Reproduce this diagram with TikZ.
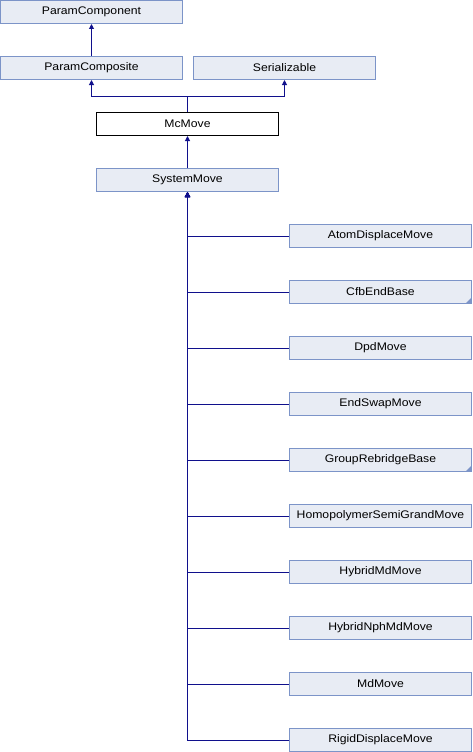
\documentclass[tikz,border=0pt]{standalone}
\usepackage{fontspec}
\setmainfont{Liberation Sans}[FakeStretch=1.11]
\usetikzlibrary{arrows.meta}
\definecolor{boxfill}{RGB}{232,236,244}
\definecolor{boxdraw}{RGB}{124,148,200}
\definecolor{arrowcol}{RGB}{16,16,140}
\tikzset{
  cls/.style={draw=boxdraw, fill=boxfill, line width=1pt, minimum width=182pt, minimum height=23pt, inner sep=0pt, font=\fontsize{11}{13}\selectfont, text=black},
  cur/.style={cls, draw=black, fill=white},
  arr/.style={draw=arrowcol, line width=1pt, -{Triangle[length=5pt,width=5pt]}},
  fold/.style={fill=boxdraw, draw=none}
}
\begin{document}
\begin{tikzpicture}[x=1pt,y=-1pt]
\useasboundingbox (0,0) rectangle (472,752);
\node[cls] (pc) at (91.5,12) {ParamComponent};
\node[cls] (pcomp) at (91.5,68) {ParamComposite};
\node[cls] (ser) at (284.5,68) {Serializable};
\node[cur] (mc) at (187.5,124) {McMove};
\node[cls] (sys) at (187.5,180) {SystemMove};
\foreach \n/\t [count=\k from 0] in {
  a/AtomDisplaceMove, b/CfbEndBase, c/DpdMove, d/EndSwapMove, e/GroupRebridgeBase,
  f/HomopolymerSemiGrandMove, g/HybridMdMove, h/HybridNphMdMove, i/MdMove, j/RigidDisplaceMove}{
  \node[cls] (\n) at (380.5,{236+56*\k}) {\t};
}
\foreach \n in {b,e}{
  \fill[fold] ([xshift=-0.5pt,yshift=0.5pt]\n.south east) -- ++(0,-6) -- ++(-6,6) -- cycle;
}
\coordinate (jn) at (187.5,96.5);
\draw[arr] (pcomp.north) -- (pc.south);
\draw[arr] (mc.north) -- (jn) -| (pcomp.south);
\draw[arr] (mc.north) -- (jn) -| (ser.south);
\draw[arr] (sys.north) -- (mc.south);
\foreach \n in {a,b,c,d,e,f,g,h,i,j}{
  \draw[arr] (\n.west) -| (sys.south);
}
\end{tikzpicture}
\end{document}
